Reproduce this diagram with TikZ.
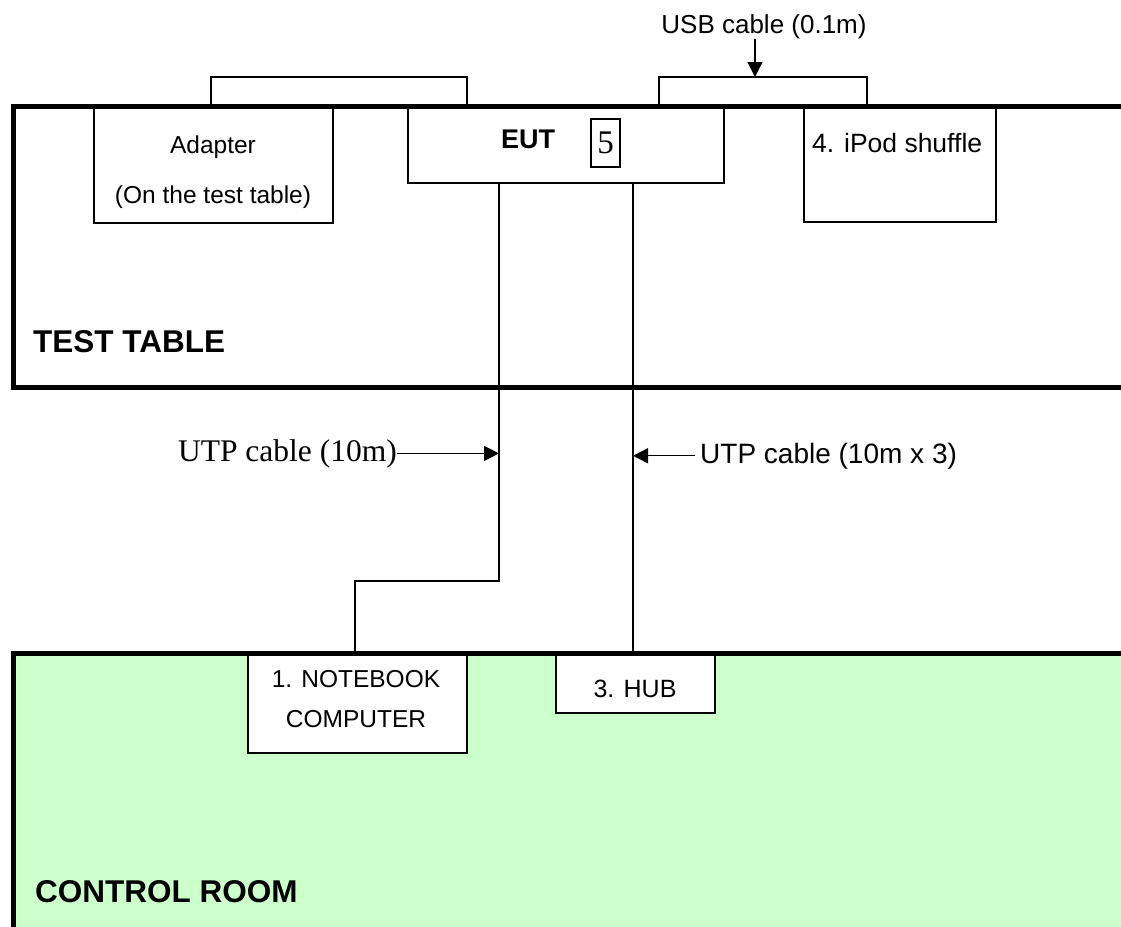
\documentclass[tikz,border=0pt]{standalone}
\usepackage{fontspec}
\setmainfont{Liberation Sans}
\newfontfamily\serifface{Liberation Serif}
\usetikzlibrary{arrows.meta}
\definecolor{roomgreen}{HTML}{CCFFCC}
\begin{document}
\begin{tikzpicture}[x=1pt,y=-1pt,
  wall/.style={line width=5pt},
  devbox/.style={draw, line width=1.8pt, fill=white, inner sep=0pt, anchor=north west},
  cableline/.style={line width=1.5pt},
  pointer/.style={line width=1.3pt, -{Triangle[length=15pt,width=15pt]}},
  lbl/.style={inner sep=0pt, anchor=base, font=\fontsize{24.5}{29}\selectfont},
  biglbl/.style={inner sep=0pt, anchor=base west, font=\fontsize{31.5}{36}\selectfont\bfseries},
]
\useasboundingbox (0,0) rectangle (1121,926);
% control room area
\begin{scope}
\clip (0,0) rectangle (1121,926);
\fill[roomgreen] (13,653) rectangle (1140,940);
\end{scope}
% devices
\node[devbox, minimum width=239pt, minimum height=116pt] (adapter) at (93,106) {};
\node[devbox, minimum width=316pt, minimum height=76pt] (eut) at (407,106) {};
\node[devbox, minimum width=192pt, minimum height=115pt] (ipod) at (803,106) {};
\node[devbox, minimum width=219pt, minimum height=99pt] (notebook) at (247,653) {};
\node[devbox, minimum width=159pt, minimum height=59pt] (hub) at (555,653) {};
% walls
\begin{scope}
\clip (0,0) rectangle (1121,926);
\draw[wall] (1140,106) -- (13,106) -- (13,387) -- (1140,387);
\draw[wall] (13,940) -- (13,653) -- (1140,653);
\end{scope}
% cables on the table
\coordinate (acA) at (211,106);
\coordinate (acB) at (467,106);
\draw[cableline] (acA) -- ++(0,-29) -| (acB);
\coordinate (usbA) at (659,106);
\coordinate (usbB) at (867,106);
\coordinate (usbtop) at (755,77);
\draw[cableline] (usbA) -- ++(0,-29) -| (usbB);
% cables to the control room
\coordinate (c1) at (499,581);
\coordinate (c2) at (355,581);
\coordinate (hubx) at (633,0);
\draw[cableline] (eut.south -| c1) -- (c1) -- (c2) -- (c2 |- notebook.north);
\draw[cableline] (eut.south -| hubx) -- (hub.north -| hubx);
% labels
\node[lbl] (adapterlbl) at (213,153) {Adapter};
\node[lbl] (adapterlbl2) at (213,203) {(On the test table)};
\node[lbl, font=\fontsize{27}{32}\selectfont\bfseries] (eutlbl) at (528,148) {EUT};
\node[draw, line width=1.2pt, inner sep=0pt, minimum width=29pt, minimum height=48pt,
      font=\fontsize{33}{38}\selectfont\serifface] (five) at (605.5,143) {5};
\node[lbl, anchor=base west, font=\fontsize{26.5}{31}\selectfont] (ipodlbl) at (812,152) {4. iPod shuffle};
\node[lbl, font=\fontsize{26}{31}\selectfont] (usblbl) at (764,33) {USB cable (0.1m)};
\draw[pointer] (usblbl.south -| usbtop) -- (usbtop);
\node[biglbl] (testtable) at (33,352) {TEST TABLE};
\node[biglbl] (controlroom) at (35,902) {CONTROL ROOM};
\node[lbl] (nblbl) at (356,687) {1. NOTEBOOK};
\node[lbl] (nblbl2) at (356,727) {COMPUTER};
\node[lbl, font=\fontsize{25}{30}\selectfont] (hublbl) at (635,697) {3. HUB};
\node[lbl, anchor=base east, font=\fontsize{31.5}{36}\selectfont\serifface] (utpleft) at (397,461) {UTP cable (10m)};
\draw[pointer] (utpleft.east) -- (utpleft.east -| c1);
\node[lbl, anchor=base west, font=\fontsize{28}{33}\selectfont] (utpright) at (700,463) {UTP cable (10m x 3)};
\draw[pointer] ([xshift=-5pt]utpright.west) -- (utpright.west -| hubx);
\end{tikzpicture}
\end{document}
